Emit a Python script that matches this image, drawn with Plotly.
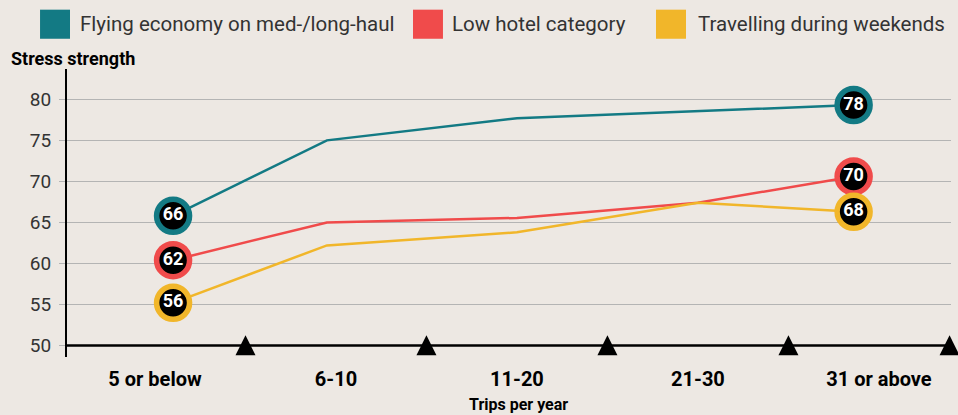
import plotly.graph_objects as go

categories = ["5 or below", "6-10", "11-20", "21-30", "31 or above"]
# horizontal position of each data point along the category axis
x_pos = [0.1, 0.95, 2.0, 3.0, 3.86]

series_names = ["Flying economy on med-/long-haul", "Low hotel category", "Travelling during weekends"]
flying_economy = [65.8, 75.0, 77.7, 78.6, 79.3]
low_hotel = [60.4, 65.0, 65.55, 67.4, 70.6]
weekends = [55.2, 62.2, 63.8, 67.4, 66.3]
end_labels = {
    "Flying economy on med-/long-haul": ["66", "78"],
    "Low hotel category": ["62", "70"],
    "Travelling during weekends": ["56", "68"],
}
y_ticks = [50, 55, 60, 65, 70, 75, 80]

colors = ["#137a84", "#f04b4b", "#f1b62a"]
BG = "#ede8e3"
TXT = "#333333"
FONT = "Roboto"

fig = go.Figure()

all_series = [flying_economy, low_hotel, weekends]
for name, vals, col in zip(series_names, all_series, colors):
    fig.add_trace(go.Scatter(
        x=x_pos, y=vals, mode="lines", name=name,
        line=dict(color=col, width=2.5), showlegend=False, hoverinfo="skip"))

for name, vals, col in zip(series_names, all_series, colors):
    fig.add_trace(go.Scatter(
        x=[x_pos[0], x_pos[-1]], y=[vals[0], vals[-1]],
        mode="markers+text", text=end_labels[name],
        textposition="middle center",
        textfont=dict(family=FONT, size=18, color="white", weight="bold"),
        marker=dict(size=33, color="black", line=dict(color=col, width=5.5)),
        showlegend=False, cliponaxis=False, hoverinfo="skip"))

# x-axis baseline at 50
fig.add_shape(type="line", xref="paper", x0=0, x1=1, yref="y", y0=50, y1=50,
              line=dict(color="black", width=2.5), layer="above")

# category boundary triangles
x_min, x_max = -0.486, 4.398
boundaries = [i + 0.5 for i in range(len(categories) - 1)] + [4.39]
fig.add_trace(go.Scatter(
    x=boundaries, y=[50 + 1.25] * len(boundaries), mode="markers",
    marker=dict(symbol="arrow-up", size=20, color="black", line=dict(width=0)),
    showlegend=False, cliponaxis=False, hoverinfo="skip"))

# manual legend
leg_sq = [(-0.0305, 0.0034), (0.3914, 0.4253), (0.6663, 0.7002)]
leg_tx = [0.0124, 0.4333, 0.7115]
for (a, b), tx, name, col in zip(leg_sq, leg_tx, series_names, colors):
    fig.add_shape(type="rect", xref="paper", yref="paper", x0=a, x1=b, y0=1.105, y1=1.206,
                  fillcolor=col, line=dict(width=0))
    fig.add_annotation(xref="paper", yref="paper", x=tx, y=1.156, text=name,
                       showarrow=False, xanchor="left", yanchor="middle",
                       font=dict(family=FONT, size=20.5, color=TXT))

fig.add_annotation(xref="paper", yref="paper", x=-0.0656, y=1.038, text="<b>Stress strength</b>",
                   showarrow=False, xanchor="left", yanchor="middle",
                   font=dict(family=FONT, size=18, color="black"))
fig.add_annotation(xref="paper", yref="paper", x=0.511, y=-0.166, text="<b>Trips per year</b>",
                   showarrow=False, xanchor="center", yanchor="middle",
                   font=dict(family=FONT, size=16, color="black"))

fig.update_layout(
    width=958, height=415,
    margin=dict(l=67, r=7, t=69, b=58),
    paper_bgcolor=BG, plot_bgcolor=BG,
    showlegend=False,
    xaxis=dict(range=[x_min, x_max], tickvals=list(range(len(categories))), ticktext=categories,
               showgrid=False, zeroline=False, showline=False, ticks="",
               ticklabelstandoff=8,
               tickfont=dict(family=FONT, size=20, color="black", weight="bold")),
    yaxis=dict(range=[48.6, 83.7], tickvals=y_ticks, showgrid=True, gridcolor="#b4b4b4", gridwidth=1,
               zeroline=False, showline=True, linecolor="black", linewidth=2,
               ticks="outside", ticklen=6, tickcolor="#b4b4b4", ticklabelstandoff=4,
               tickfont=dict(family=FONT, size=19, color=TXT)),
)

fig.write_html("out.html", config={"displayModeBar": False},
               post_script="document.body.style.margin='0';document.body.style.background='%s';" % BG)
